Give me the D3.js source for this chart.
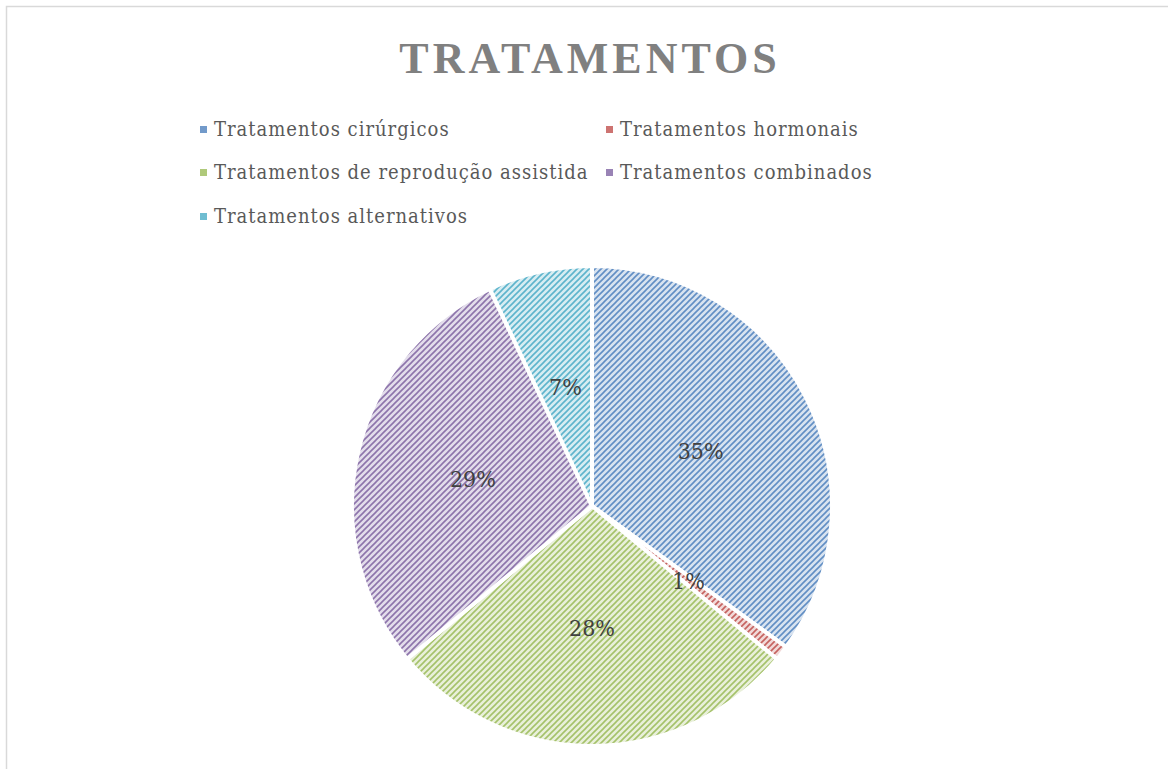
<!DOCTYPE html>
<html>
<head>
<meta charset="utf-8">
<script src="https://cdn.jsdelivr.net/npm/d3@7"></script>
<style>
  body { margin: 0; background: #ffffff; }
  svg { display: block; }
</style>
</head>
<body>
<svg id="chart" width="1168" height="769"></svg>
<script>
// data
const categories = ["Tratamentos cirúrgicos", "Tratamentos hormonais", "Tratamentos de reprodução assistida", "Tratamentos combinados", "Tratamentos alternativos"];
const values = [35, 1, 28, 29, 7];
const labels = ["35%", "1%", "28%", "29%", "7%"];
const baseColors = ["#4F81BD", "#C0504D", "#9BBB59", "#8064A2", "#4BACC6"];

const width = 1168, height = 769;
const svg = d3.select("#chart");
const serif = "'DejaVu Serif Condensed', 'Liberation Serif', serif";

// chart border
svg.append("rect")
    .attr("x", 6.5)
    .attr("y", 6.5)
    .attr("width", width + 10)
    .attr("height", height + 10)
    .attr("fill", "#ffffff")
    .attr("stroke", "#d9d9d9")
    .attr("stroke-width", 1.5);

// striped fills
const defs = svg.append("defs");
baseColors.forEach((c, i) => {
    const light = d3.interpolateRgb("#ffffff", c)(0.22);
    const dark = d3.interpolateRgb("#ffffff", c)(0.9);
    const p = defs.append("pattern")
        .attr("id", "stripe" + i)
        .attr("patternUnits", "userSpaceOnUse")
        .attr("width", 6)
        .attr("height", 6);
    p.append("rect").attr("width", 6).attr("height", 6).attr("fill", light);
    p.append("path")
        .attr("d", "M-1,7 L7,-1 M-4,4 L4,-4 M2,10 L10,2")
        .attr("stroke", dark)
        .attr("stroke-width", 1.6);
});

// title
svg.append("text")
    .attr("x", 590)
    .attr("y", 73)
    .attr("text-anchor", "middle")
    .attr("fill", "#808080")
    .style("font-family", "'Liberation Serif', serif")
    .style("font-weight", "bold")
    .style("font-size", "44px")
    .style("letter-spacing", "4px")
    .text("TRATAMENTOS");

// legend
const legendPos = [[200, 129], [606, 129], [200, 172], [606, 172], [200, 216]];
categories.forEach((cat, i) => {
    const [lx, ly] = legendPos[i];
    svg.append("rect")
        .attr("x", lx)
        .attr("y", ly - 3)
        .attr("width", 7)
        .attr("height", 7)
        .attr("fill", d3.interpolateRgb("#ffffff", baseColors[i])(0.8));
    svg.append("text")
        .attr("x", lx + 14)
        .attr("y", ly + 7)
        .attr("fill", "#595959")
        .style("font-family", serif)
        .style("font-size", "20px")
        .style("letter-spacing", "1px")
        .text(cat);
});

// pie
const cx = 592, cy = 506, r = 240;
const pie = d3.pie().sort(null).value(d => d)(values);
const arc = d3.arc().innerRadius(0).outerRadius(r);
const labelArc = d3.arc().innerRadius(122).outerRadius(122);

const g = svg.append("g").attr("transform", `translate(${cx},${cy})`);
g.selectAll("path.slice")
    .data(pie)
    .join("path")
    .attr("class", "slice")
    .attr("d", arc)
    .attr("fill", (d, i) => "url(#stripe" + i + ")")
    .attr("stroke", "#ffffff")
    .attr("stroke-width", 4);

g.selectAll("text.lbl")
    .data(pie)
    .join("text")
    .attr("class", "lbl")
    .attr("transform", d => `translate(${labelArc.centroid(d)})`)
    .attr("text-anchor", "middle")
    .attr("dy", "0.35em")
    .attr("fill", "#404040")
    .style("font-family", serif)
    .style("font-size", "23px")
    .text((d, i) => labels[i]);
</script>
</body>
</html>
